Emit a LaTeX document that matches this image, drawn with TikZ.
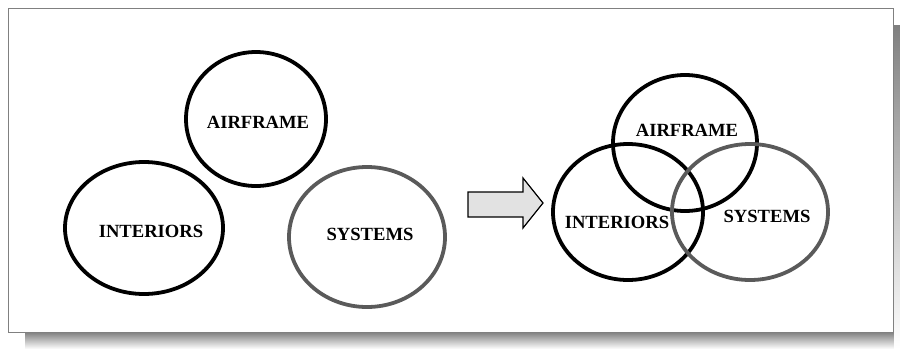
\documentclass[tikz,border=0pt]{standalone}
\usepackage{fontspec}
\setmainfont{Liberation Serif}
\usetikzlibrary{shapes.geometric}
\definecolor{shade}{HTML}{6E6E6E}
\definecolor{ringgray}{HTML}{5A5A5A}
\definecolor{arrowfill}{HTML}{E2E2E2}
\begin{document}
\begin{tikzpicture}[x=1pt,y=-1pt,
  ring/.style={ellipse,draw=black,line width=3.8pt,inner sep=0pt,minimum width=#1},
  grayring/.style={ring=#1,draw=ringgray},
  lbl/.style={font=\fontsize{18.6}{20}\selectfont\bfseries,inner sep=0pt},
  blockarrow/.style={draw=black,fill=arrowfill,line width=1.2pt,line join=miter}]
  \useasboundingbox (0,0) rectangle (900,349);
  % drop shadow and frame
  \fill[shade] (25,332) rectangle (900,349);
  \fill[shade] (894,25) rectangle (900,349);
  \draw[gray,line width=1pt] (8,8) rectangle (893,332);
  % separate groups
  \node[ring=140pt,minimum height=134pt] (airL) at (256,119) {};
  \node[ring=158pt,minimum height=132pt] (intL) at (144,228) {};
  \node[grayring=156pt,minimum height=140pt] (sysL) at (367,237) {};
  \node[lbl] (tairL) at (258,122) {AIRFRAME};
  \node[lbl] (tintL) at (151,231) {INTERIORS};
  \node[lbl] (tsysL) at (370,234) {SYSTEMS};
  % transition arrow
  \draw[blockarrow] (468,192) -- (523,192) -- (523,178) -- (543,203)
    -- (523,228) -- (523,217) -- (468,217) -- cycle;
  % overlapping groups
  \node[ring=144pt,minimum height=136pt] (airR) at (685,143) {};
  \node[ring=150pt,minimum height=136pt] (intR) at (628,212) {};
  \node[grayring=156pt,minimum height=136pt] (sysR) at (750,212) {};
  \node[lbl] (tairR) at (687,130) {AIRFRAME};
  \node[lbl] (tintR) at (617,222) {INTERIORS};
  \node[lbl] (tsysR) at (767,216) {SYSTEMS};
\end{tikzpicture}
\end{document}
